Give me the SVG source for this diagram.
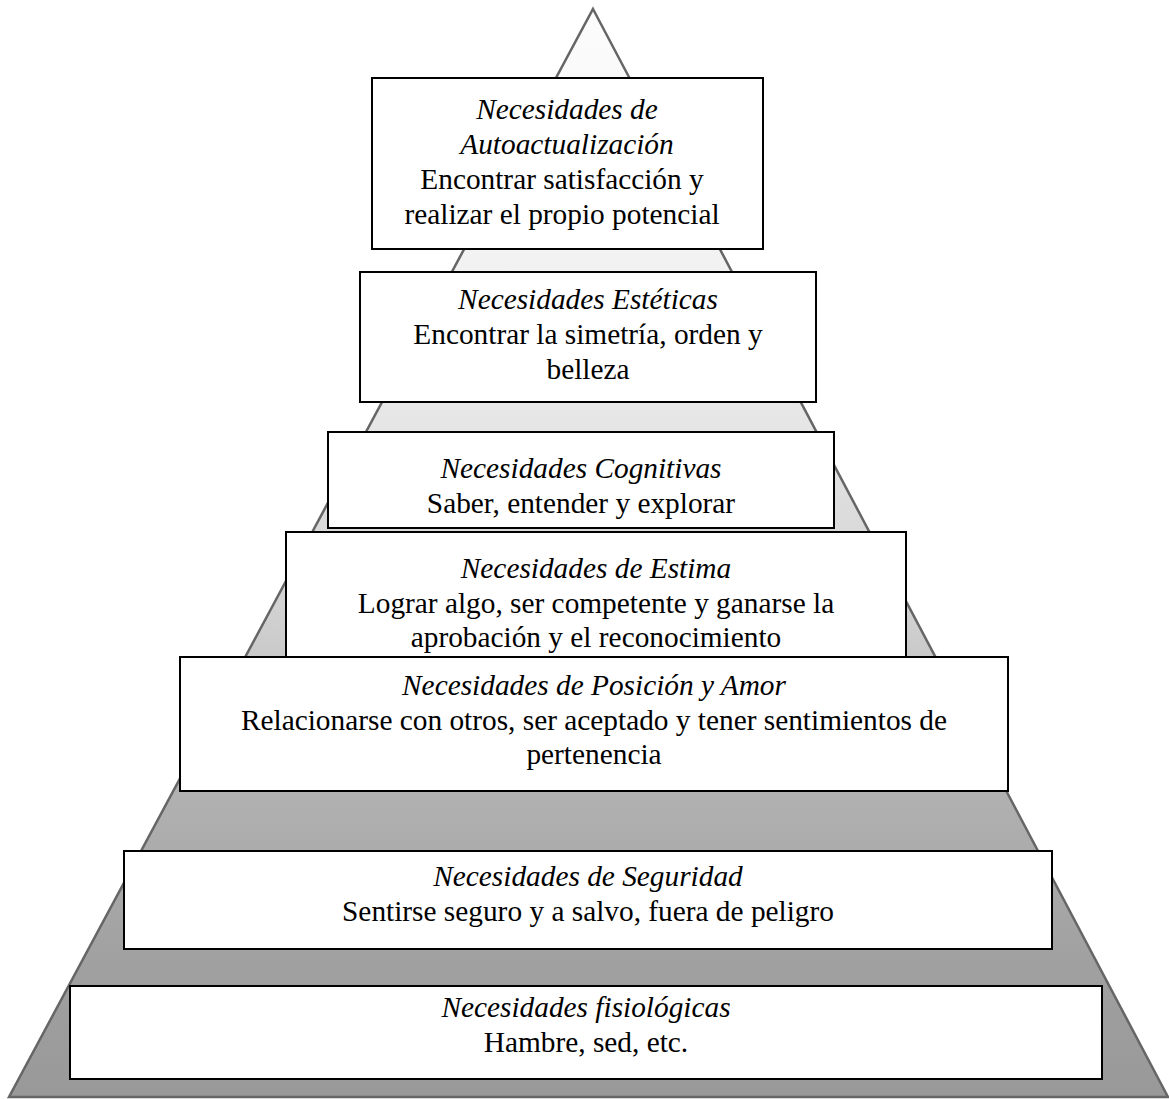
<svg xmlns="http://www.w3.org/2000/svg" width="1169" height="1099" viewBox="0 0 1169 1099">
<defs>
<linearGradient id="pg" x1="0" y1="9" x2="0" y2="1097" gradientUnits="userSpaceOnUse">
<stop offset="0" stop-color="#fcfcfc"/>
<stop offset="0.23" stop-color="#f2f2f2"/>
<stop offset="0.38" stop-color="#e6e6e6"/>
<stop offset="0.56" stop-color="#d0d0d0"/>
<stop offset="0.73" stop-color="#b0b0b0"/>
<stop offset="0.88" stop-color="#a0a0a0"/>
<stop offset="1" stop-color="#999999"/>
</linearGradient>
</defs>
<style>
.box{fill:#ffffff;stroke:#000000;stroke-width:2}
text{font-family:"Liberation Serif","Times New Roman",serif;font-size:29.33px;fill:#000000;text-anchor:middle}
.t{font-style:italic}
</style>
<rect width="1169" height="1099" fill="#ffffff"/>
<g id="pyramid">
<polygon points="593,9 1168,1097 9,1097" fill="url(#pg)" stroke="#666666" stroke-width="2.5" stroke-linejoin="miter"/>
</g>
<g id="connectors"></g>
<g id="n1">
<rect class="box" x="372" y="78" width="391" height="171"/>
<text x="567" y="119" class="t">Necesidades de</text>
<text x="567" y="154" class="t">Autoactualización</text>
<text x="562" y="189">Encontrar satisfacción y</text>
<text x="562" y="224">realizar el propio potencial</text>
</g>
<g id="n2">
<rect class="box" x="360" y="272" width="456" height="130"/>
<text x="588" y="309" class="t">Necesidades Estéticas</text>
<text x="588" y="344">Encontrar la simetría, orden y</text>
<text x="588" y="379">belleza</text>
</g>
<g id="n3">
<rect class="box" x="328" y="432" width="506" height="96"/>
<text x="581" y="478" class="t">Necesidades Cognitivas</text>
<text x="581" y="513">Saber, entender y explorar</text>
</g>
<g id="n4">
<rect class="box" x="286" y="532" width="620" height="125"/>
<text x="596" y="578" class="t">Necesidades de Estima</text>
<text x="596" y="613">Lograr algo, ser competente y ganarse la</text>
<text x="596" y="647">aprobación y el reconocimiento</text>
</g>
<g id="n5">
<rect class="box" x="180" y="657" width="828" height="134"/>
<text x="594" y="695" class="t">Necesidades de Posición y Amor</text>
<text x="594" y="730">Relacionarse con otros, ser aceptado y tener sentimientos de</text>
<text x="594" y="764">pertenencia</text>
</g>
<g id="n6">
<rect class="box" x="124" y="851" width="928" height="98"/>
<text x="588" y="886" class="t">Necesidades de Seguridad</text>
<text x="588" y="921">Sentirse seguro y a salvo, fuera de peligro</text>
</g>
<g id="n7">
<rect class="box" x="70" y="986" width="1032" height="93"/>
<text x="586" y="1017" class="t">Necesidades fisiológicas</text>
<text x="586" y="1052">Hambre, sed, etc.</text>
</g>
</svg>
